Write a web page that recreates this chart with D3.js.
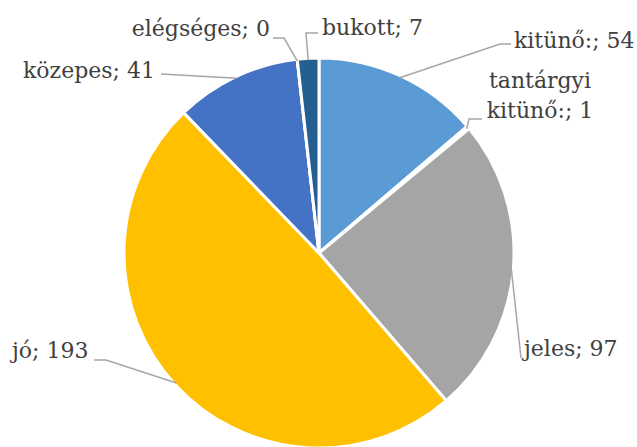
<!DOCTYPE html>
<html>
<head>
<meta charset="utf-8">
<script src="https://cdn.jsdelivr.net/npm/d3@7"></script>
<style>
  body { margin: 0; background: #fff; }
  svg { display: block; }
</style>
</head>
<body>
<script>
var w = 637, h = 447,
    cx = 319, cy = 253, r = 195

// chart data
var categories = ["kitünő:", "tantárgyi kitünő:", "jeles", "jó", "közepes", "elégséges", "bukott"]
var values = [54, 1, 97, 193, 41, 0, 7]
var colors = ["#5B9BD5", "#ED7D31", "#A5A5A5", "#FFC000", "#4472C4", "#70AD47", "#255E91"]

// label layout: text anchor point + leader bend point (page coords)
var labelPos = [
  {x: 514, y: 48, anchor: "start", bend: [[500, 44], [511, 44]]},
  {x: 540, y: 88, anchor: "middle", bend: [[469, 119], [482, 119]], lines: ["tantárgyi", "kitünő:; 1"]},
  {x: 524, y: 356, anchor: "start", bend: [[521, 358]]},
  {x: 12, y: 358, anchor: "start", bend: [[106, 360], [94, 360]]},
  {x: 155, y: 78, anchor: "end", bend: [[161, 74]]},
  {x: 270, y: 36, anchor: "end", bend: [[284, 38], [273, 38]]},
  {x: 322, y: 35, anchor: "start", bend: [[306, 33], [318, 33]]}
]

var data = categories.map(function(c, i) { return {name: c, value: values[i], color: colors[i]} })

var svg = d3.select("body").append("svg")
    .attr("width", w)
    .attr("height", h)

var g = svg.append("g").attr("transform", "translate(" + cx + "," + cy + ")")

var pie = d3.pie().value(function(d) { return d.value }).sort(null)
var arc = d3.arc().innerRadius(0).outerRadius(r)

var arcs = pie(data)

g.selectAll("path")
  .data(arcs)
  .enter().append("path")
    .attr("d", arc)
    .attr("fill", function(d) { return d.data.color })
    .attr("stroke", "white")
    .attr("stroke-width", 3)
    .attr("stroke-linejoin", "round")

// leader lines
var line = d3.line()
arcs.forEach(function(d, i) {
  var p = labelPos[i]
  var a = (d.startAngle + d.endAngle) / 2
  var start = [cx + Math.sin(a) * (r - 2), cy - Math.cos(a) * (r - 2)]
  var pts = [start].concat(p.bend)
  svg.append("path")
    .attr("d", line(pts))
    .attr("fill", "none")
    .attr("stroke", "#A6A6A6")
    .attr("stroke-width", 1.5)
})

// labels
arcs.forEach(function(d, i) {
  var p = labelPos[i]
  var lines = p.lines || [d.data.name + "; " + d.data.value]
  var t = svg.append("text")
    .attr("x", p.x)
    .attr("y", p.y)
    .attr("text-anchor", p.anchor)
    .style("font-family", "'DejaVu Serif'")
    .attr("font-size", "22px")
    .attr("fill", "#404040")
  lines.forEach(function(l, j) {
    t.append("tspan").attr("x", p.x).attr("dy", j == 0 ? 0 : 30).text(l)
  })
})
</script>
</body>
</html>
